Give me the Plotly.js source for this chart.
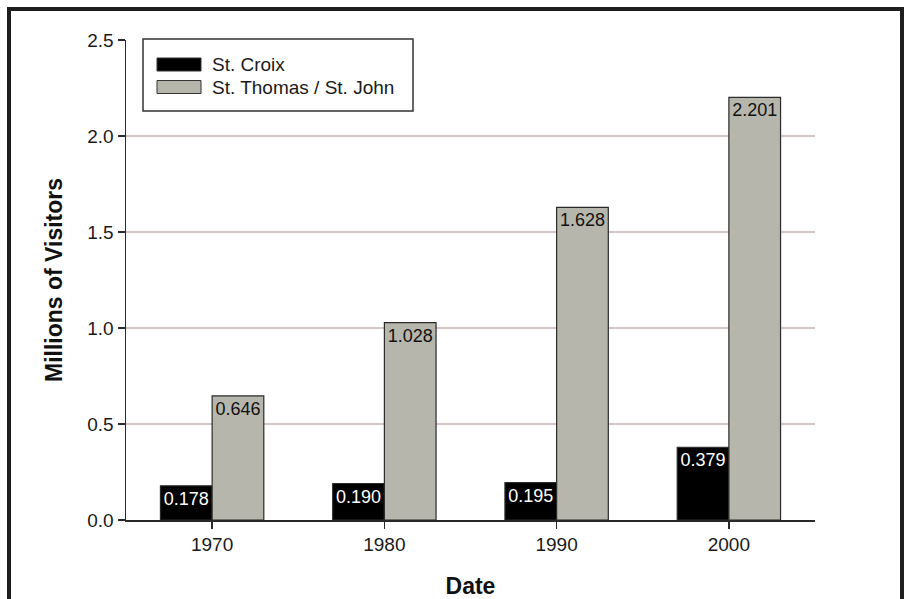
<!DOCTYPE html>
<html>
<head>
<meta charset="utf-8">
<script src="https://cdn.plot.ly/plotly-3.0.1.min.js"></script>
<style>
  html, body { margin: 0; padding: 0; background: #ffffff; }
  #chart { width: 906px; height: 599px; }
</style>
</head>
<body>
<div id="chart"></div>
<script>
// Visitor arrivals to the U.S. Virgin Islands, millions
const years = ['1970', '1980', '1990', '2000'];
const stCroix = [0.178, 0.190, 0.195, 0.379];
const stThomasJohn = [0.646, 1.028, 1.628, 2.201];
const seriesNames = ['St. Croix', 'St. Thomas / St. John'];
const seriesColors = ['#000000', '#b6b6ac'];
const labelColors = ['#ffffff', '#111111'];
const yTicks = [0, 0.5, 1.0, 1.5, 2.0, 2.5];

const FONT = 'Liberation Sans, Arial, Helvetica, sans-serif';

// Plot area in pixels (used to place the frame and the boxed legend)
const L = 126, R = 815, T = 40, B = 520;
const px = x => (x - L) / (R - L);
const py = y => (B - y) / (B - T);

const traces = [stCroix, stThomasJohn].map((vals, i) => ({
  type: 'bar',
  name: seriesNames[i],
  x: years,
  y: vals,
  marker: { color: seriesColors[i], line: { color: '#2a2a2a', width: 1.2 } },
  texttemplate: '%{y:.3f}',
  textposition: 'inside',
  insidetextanchor: 'end',
  constraintext: 'none',
  textfont: { family: FONT, size: 18, color: labelColors[i] },
  hoverinfo: 'x+y+name'
}));

// Boxed legend with wide swatches
const shapes = [
  // outer frame
  { type: 'rect', xref: 'paper', yref: 'paper',
    x0: px(9), x1: px(902), y0: py(640), y1: py(9),
    line: { color: '#1e1e1e', width: 4 }, fillcolor: 'rgba(0,0,0,0)', layer: 'below' },
  // legend box
  { type: 'rect', xref: 'paper', yref: 'paper',
    x0: px(143), x1: px(413), y0: py(111), y1: py(39),
    line: { color: '#333333', width: 1.5 }, fillcolor: '#ffffff', layer: 'above' }
];
const annotations = [];
seriesNames.forEach((name, i) => {
  const yc = 64.5 + i * 22.5;
  shapes.push({ type: 'rect', xref: 'paper', yref: 'paper',
    x0: px(157), x1: px(201), y0: py(yc + 6.5), y1: py(yc - 6.5),
    line: { color: '#333333', width: 1 }, fillcolor: seriesColors[i], layer: 'above' });
  annotations.push({ xref: 'paper', yref: 'paper', x: px(210), y: py(yc),
    xanchor: 'left', yanchor: 'middle', showarrow: false, text: name,
    font: { family: FONT, size: 19, color: '#1a1a1a' } });
});

const layout = {
  width: 906, height: 599,
  margin: { l: L, r: 906 - R, t: T, b: 599 - B, pad: 0 },
  paper_bgcolor: '#ffffff',
  plot_bgcolor: '#ffffff',
  font: { family: FONT, size: 19, color: '#1a1a1a' },
  showlegend: false,
  barmode: 'group',
  bargap: 0.4,
  bargroupgap: 0,
  xaxis: {
    type: 'category',
    range: [-0.5, 3.5],
    showline: true, linecolor: '#2a2a2a', linewidth: 1.5,
    ticks: 'outside', ticklen: 7, tickwidth: 1.5, tickcolor: '#2a2a2a',
    showgrid: false, zeroline: false,
    tickfont: { family: FONT, size: 19, color: '#1a1a1a' },
    title: { text: '<b>Date</b>', font: { family: FONT, size: 23, color: '#111111' }, standoff: 32 }
  },
  yaxis: {
    range: [0, 2.5],
    tickvals: yTicks,
    tickformat: '.1f',
    showline: true, linecolor: '#2a2a2a', linewidth: 1.5,
    ticks: 'outside', ticklen: 7, tickwidth: 1.5, tickcolor: '#2a2a2a',
    showgrid: true, gridcolor: '#d3c6c4', gridwidth: 1.5,
    zeroline: false,
    tickfont: { family: FONT, size: 19, color: '#1a1a1a' },
    title: { text: '<b>Millions of Visitors</b>', font: { family: FONT, size: 23, color: '#111111' }, standoff: 18 }
  },
  shapes: shapes,
  annotations: annotations
};

Plotly.newPlot('chart', traces, layout, { staticPlot: true, displayModeBar: false });
</script>
</body>
</html>
